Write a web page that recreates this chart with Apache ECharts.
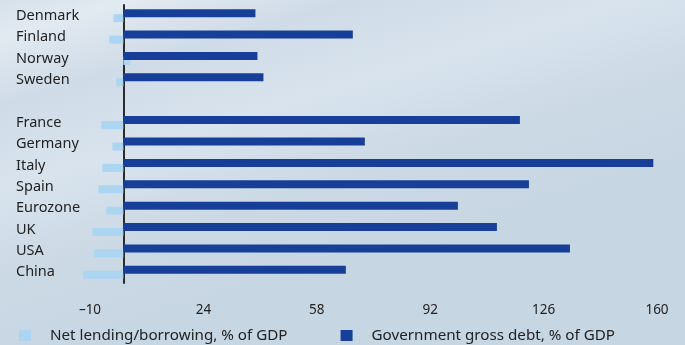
<!DOCTYPE html>
<html lang="en">

<head>
  <script src="https://cdn.jsdelivr.net/npm/echarts@6/dist/echarts.min.js"></script>
  <meta charset="UTF-8">
  <style>
    html, body { margin: 0; padding: 0; }
  </style>
</head>

<body>
  <div id="debtChart" style="width: 685px;height:345px;"></div>

  <script type="text/javascript">

    // top to bottom, '' is the gap between the Nordics and the rest
    var countries = ['Denmark', 'Finland', 'Norway', 'Sweden', '', 'France', 'Germany', 'Italy', 'Spain', 'Eurozone', 'UK', 'USA', 'China'];
    var netLending = [-3.0, -4.2, 2.1, -2.1, null, -6.6, -3.3, -6.3, -7.5, -5.1, -9.3, -8.7, -12.0];
    var grossDebt = [39.6, 68.8, 40.2, 42.0, null, 118.9, 72.4, 158.9, 121.6, 100.3, 112.0, 133.9, 66.7];
    var xTicks = [-10, 24, 58, 92, 126, 160];

    var lightBlue = '#acd5f1';
    var darkBlue = '#173f97';
    var font = 'Noto Sans';

    function createDebtChart() {
      const chart = echarts.init(document.getElementById('debtChart'));

      let option = {
        backgroundColor: {
          type: 'linear', x: 0, y: 0, x2: 0.15, y2: 1,
          colorStops: [
            { offset: 0, color: '#d6e1eb' },
            { offset: 0.1, color: '#e2eaf1' },
            { offset: 0.28, color: '#cfdbe7' },
            { offset: 0.5, color: '#d8e3ed' },
            { offset: 0.75, color: '#cbd9e5' },
            { offset: 1, color: '#c7d6e3' }
          ]
        },
        textStyle: { fontFamily: font },
        grid: {
          left: 90,
          right: 28,
          top: 5,
          bottom: 62,
          outerBoundsMode: 'none',
          containLabel: false
        },
        legend: {
          left: 14,
          top: 323,
          itemWidth: 12,
          itemHeight: 11,
          itemGap: 53,
          icon: 'rect',
          data: ['Net lending/borrowing, % of GDP', 'Government gross debt, % of GDP'],
          textStyle: {
            color: '#222',
            fontSize: 15.2,
            fontFamily: font,
            padding: [0, 0, 0, 14]
          }
        },
        xAxis: {
          type: 'value',
          min: xTicks[0],
          max: xTicks[xTicks.length - 1],
          interval: xTicks[1] - xTicks[0],
          axisLine: { show: false },
          axisTick: { show: false },
          splitLine: { show: false },
          axisLabel: {
            color: '#222',
            fontSize: 13.5,
            fontFamily: font,
            margin: 20,
            formatter: v => v < 0 ? '\u2013' + Math.abs(v) : String(v)
          }
        },
        yAxis: {
          type: 'category',
          data: countries,
          inverse: true,
          axisLine: {
            onZero: true,
            lineStyle: { color: '#2b2b2b', width: 2 }
          },
          axisTick: { show: false },
          axisLabel: {
            color: '#222',
            fontSize: 14.5,
            fontFamily: font,
            align: 'left',
            margin: 74
          }
        },
        series: [
          {
            name: 'Government gross debt, % of GDP',
            type: 'bar',
            data: grossDebt,
            barWidth: 8,
            barGap: '-37.5%',
            clip: false,
            itemStyle: { color: darkBlue },
            z: 3
          },
          {
            name: 'Net lending/borrowing, % of GDP',
            type: 'bar',
            data: netLending,
            barWidth: 8,
            barGap: '-37.5%',
            clip: false,
            itemStyle: { color: lightBlue },
            z: 2
          }
        ]
      };

      chart.setOption(option);
    }
    createDebtChart();
  </script>
</body>

</html>
